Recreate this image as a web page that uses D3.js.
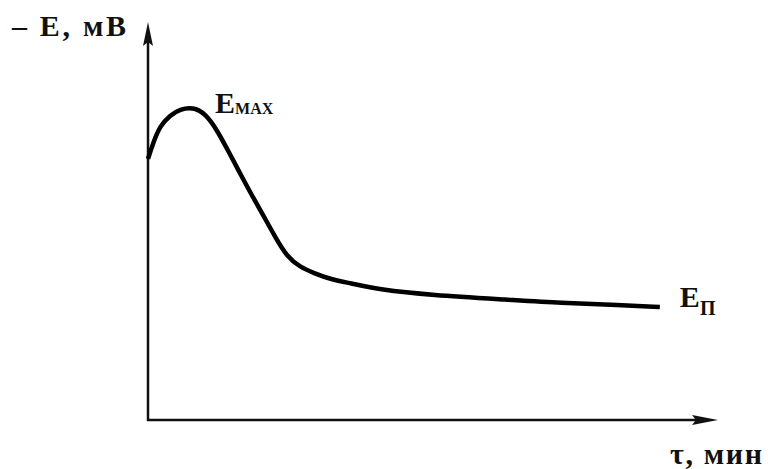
<!DOCTYPE html>
<html>
<head>
<meta charset="utf-8">
<script src="https://cdn.jsdelivr.net/npm/d3@7"></script>
<style>
  html, body { margin: 0; padding: 0; background: #fff; }
  svg { display: block; }
  text { font-family: "Liberation Serif", "DejaVu Serif", serif; font-weight: bold; fill: #111; }
</style>
</head>
<body>
<svg id="chart" width="768" height="469"></svg>
<script>
// Time, relative units (0..100 of the axis length)
const timeValues = [0, 0.9, 2.1, 3.9, 5.6, 7.9, 10.0, 12.1, 14.0, 16.1, 18.2, 20.2,
  22.3, 24.4, 26.7, 29.1, 31.9, 35.4, 40.7, 49.5, 63.5, 72.3, 82.8, 89.8];
// Potential -E, relative units
const potentialValues = [65.6, 69.6, 73.9, 76.6, 78.1, 78.6, 77.1, 72.9, 67.8, 62.1, 56.5, 51.5,
  46.0, 41.0, 38.4, 36.9, 35.4, 34.4, 32.7, 31.4, 30.2, 29.4, 28.9, 28.4];

const yAxisLabel = "– E, мВ";
const xAxisLabel = "τ, мин";
const peakLabel = { main: "E", sub: "MAX" };
const plateauLabel = { main: "E", sub: "П" };

const svg = d3.select("#chart");

const x = d3.scaleLinear().domain([0, 100]).range([148, 718]);
const y = d3.scaleLinear().domain([0, 100]).range([420, 22]);

const x0 = x(0), y0 = y(0);
const xEnd = x(100), yEnd = y(100);

// Axis lines
const axisG = svg.append("g").attr("stroke", "#111").attr("fill", "none");
axisG.append("path")
  .attr("d", `M${x0},${y0 + 1}V${yEnd + 20}`)
  .attr("stroke-width", 2.5);
axisG.append("path")
  .attr("d", `M${x0 - 1},${y0}H${xEnd - 20}`)
  .attr("stroke-width", 2.5);

// Arrowheads
svg.append("path")
  .attr("d", `M${x0},${yEnd} L${x0 - 5},${yEnd + 24} L${x0},${yEnd + 20} L${x0 + 5},${yEnd + 24} Z`)
  .attr("fill", "#111");
svg.append("path")
  .attr("d", `M${xEnd},${y0} L${xEnd - 26},${y0 - 5} L${xEnd - 22},${y0} L${xEnd - 26},${y0 + 5} Z`)
  .attr("fill", "#111");

// Potential curve
const points = timeValues.map((t, i) => [t, potentialValues[i]]);
const line = d3.line()
  .x(d => x(d[0]))
  .y(d => y(d[1]))
  .curve(d3.curveBasis);

svg.append("path")
  .datum(points)
  .attr("d", line)
  .attr("fill", "none")
  .attr("stroke", "#000")
  .attr("stroke-width", 4.5)
  .attr("stroke-linejoin", "round");

// Axis titles
svg.append("text")
  .attr("x", 12).attr("y", 36)
  .attr("font-size", 30)
  .attr("textLength", 114)
  .text(yAxisLabel);

svg.append("text")
  .attr("x", 670).attr("y", 464)
  .attr("font-size", 30)
  .attr("textLength", 92)
  .text(xAxisLabel);

// Peak label
const peakIdx = d3.maxIndex(potentialValues);
const peak = svg.append("text")
  .attr("x", x(timeValues[peakIdx]) + 22)
  .attr("y", y(potentialValues[peakIdx]) + 6)
  .attr("font-size", 30);
peak.append("tspan").text(peakLabel.main);
peak.append("tspan").attr("font-size", 16).attr("dy", 1).text(peakLabel.sub);

// Plateau label
const last = points[points.length - 1];
const plateau = svg.append("text")
  .attr("x", x(last[0]) + 20)
  .attr("y", y(last[1]) + 0)
  .attr("font-size", 30);
plateau.append("tspan").text(plateauLabel.main);
plateau.append("tspan").attr("font-size", 20).attr("dy", 8).text(plateauLabel.sub);
</script>
</body>
</html>
